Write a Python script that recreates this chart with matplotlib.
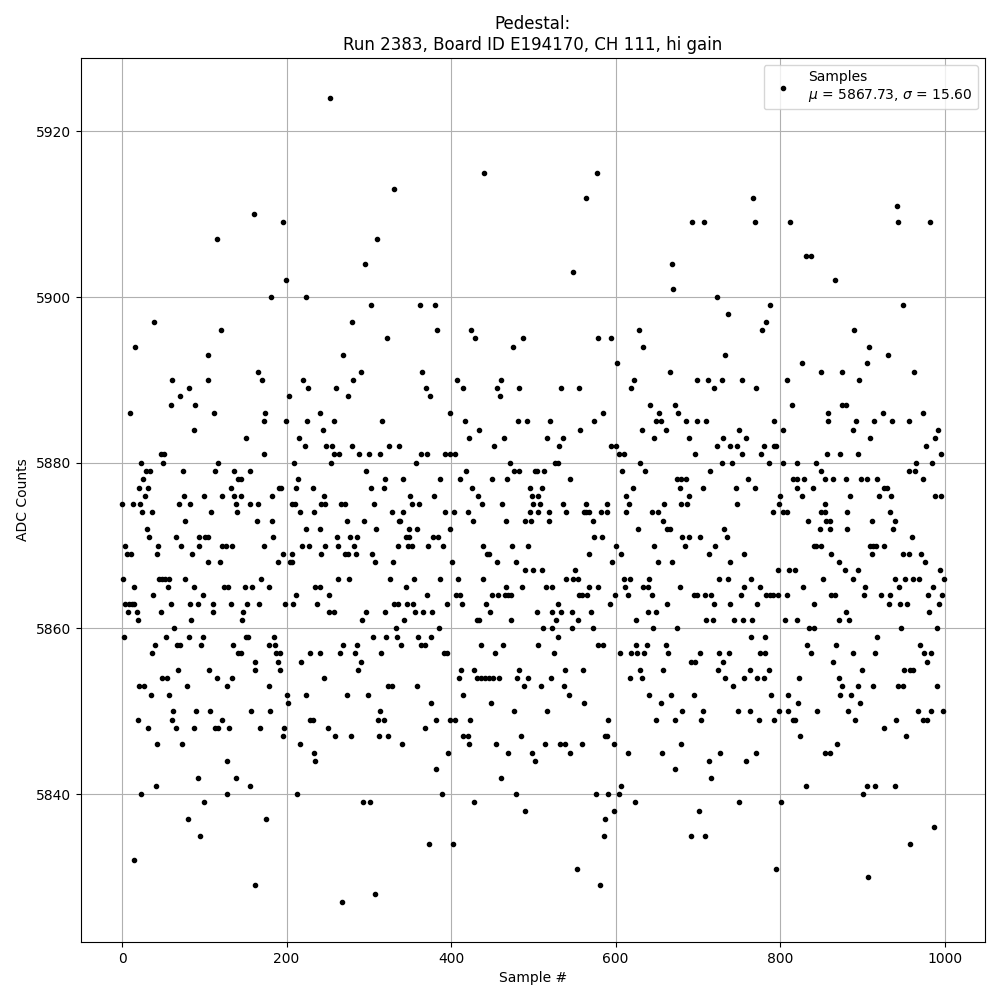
import matplotlib
matplotlib.use("Agg")
import matplotlib.pyplot as plt

# Pedestal samples: (sample #, ADC counts)
# points hidden behind others are not included
strip_a = [(39,5897),(16,5894),(61,5890),(70,5888),(10,5886),(60,5887),(47,5881),(51,5881),(23,5880),(50,5880),(74,5879),(29,5879),(34,5879),(20,5877),(32,5877),(26,5878),(0,5875),(13,5875),(22,5875),(69,5875),(28,5876),(75,5876),(24,5874),(36,5874),(76,5873),(30,5872),(33,5871),(65,5871),(4,5870),(44,5870),(72,5870),(6,5869),(11,5869),(43,5869),(1,5866),(45,5866),(48,5866),(52,5866),(57,5866),(77,5866),(15,5865),(56,5865),(38,5864),(3,5863),(8,5863),(12,5863),(14,5863),(60,5863),(7,5862),(18,5862),(47,5862),(19,5861),(63,5860),(2,5859),(53,5859),(40,5858),(67,5858),(71,5858),(36,5857),(68,5855),(48,5854),(54,5854),(21,5853),(27,5853),(35,5852),(57,5852),(62,5850),(61,5849),(19,5849),(31,5848),(66,5848),(42,5846),(73,5846),(41,5841),(23,5840),(14,5832)]
strip_b = [(160,5910),(115,5907),(120,5896),(105,5893),(104,5890),(81,5889),(89,5887),(112,5886),(88,5884),(151,5883),(117,5880),(113,5879),(136,5879),(156,5879),(132,5877),(141,5878),(144,5878),(83,5875),(99,5876),(122,5876),(136,5876),(144,5876),(138,5875),(155,5875),(108,5874),(140,5874),(94,5871),(101,5871),(104,5871),(93,5870),(122,5870),(126,5870),(134,5870),(85,5869),(104,5868),(119,5868),(87,5865),(124,5865),(129,5865),(149,5865),(158,5865),(98,5864),(82,5863),(92,5863),(110,5863),(132,5863),(152,5863),(111,5862),(147,5862),(84,5861),(146,5861),(81,5859),(98,5859),(151,5859),(153,5859),(96,5858),(135,5858),(141,5857),(145,5857),(162,5856),(161,5855),(106,5855),(115,5854),(133,5854),(127,5853),(79,5853),(90,5850),(107,5850),(157,5850),(87,5848),(113,5848),(117,5848),(130,5848),(121,5849),(127,5844),(92,5842),(139,5842),(155,5841),(128,5840),(100,5839),(80,5837),(95,5835),(161,5829)]
strip_c = [(195,5909),(199,5902),(181,5900),(224,5900),(165,5891),(170,5890),(220,5890),(226,5889),(203,5888),(174,5886),(172,5885),(199,5885),(225,5885),(240,5886),(244,5884),(215,5883),(222,5882),(173,5881),(209,5880),(214,5878),(191,5877),(193,5877),(212,5877),(232,5877),(182,5876),(246,5876),(165,5875),(206,5875),(210,5875),(242,5875),(247,5875),(216,5874),(233,5874),(164,5873),(182,5873),(223,5872),(241,5872),(183,5871),(172,5870),(219,5870),(227,5870),(247,5870),(195,5869),(206,5869),(242,5869),(189,5868),(204,5868),(207,5868),(169,5866),(178,5865),(212,5864),(167,5863),(198,5863),(208,5863),(235,5865),(240,5865),(237,5863),(185,5859),(178,5858),(186,5858),(187,5857),(192,5857),(189,5856),(218,5856),(229,5857),(240,5857),(192,5855),(246,5854),(178,5853),(201,5852),(202,5851),(223,5852),(180,5850),(229,5849),(232,5849),(168,5848),(197,5848),(196,5847),(216,5846),(233,5845),(235,5844),(213,5840),(175,5837)]
strip_d = [(253,5924),(331,5913),(310,5907),(295,5904),(303,5899),(280,5897),(322,5895),(269,5893),(291,5891),(281,5890),(260,5889),(275,5888),(257,5885),(316,5885),(248,5882),(255,5882),(280,5882),(325,5882),(258,5881),(264,5881),(288,5881),(300,5881),(314,5881),(254,5880),(297,5879),(320,5878),(303,5877),(318,5877),(266,5875),(271,5875),(306,5875),(328,5874),(274,5873),(294,5873),(309,5872),(261,5871),(277,5871),(286,5871),(263,5870),(282,5870),(271,5869),(275,5869),(284,5869),(304,5869),(308,5868),(329,5868),(263,5866),(276,5866),(326,5866),(252,5864),(252,5862),(258,5862),(297,5862),(320,5862),(292,5861),(331,5863),(305,5859),(321,5859),(269,5858),(286,5858),(265,5857),(283,5857),(315,5857),(291,5856),(287,5855),(323,5853),(328,5853),(274,5852),(299,5852),(314,5850),(311,5849),(318,5849),(250,5848),(259,5847),(278,5847),(312,5847),(323,5847),(293,5839),(301,5839),(308,5828),(267,5827)]
strip_e = [(362,5899),(380,5899),(383,5896),(365,5891),(407,5890),(369,5889),(374,5888),(415,5889),(398,5886),(417,5885),(337,5882),(363,5881),(371,5881),(392,5881),(398,5881),(405,5881),(357,5880),(341,5878),(386,5878),(411,5878),(350,5876),(379,5876),(352,5875),(361,5875),(341,5874),(392,5874),(403,5874),(337,5873),(338,5873),(349,5872),(358,5872),(398,5872),(345,5871),(349,5871),(378,5871),(384,5871),(335,5870),(348,5870),(352,5870),(372,5870),(390,5870),(401,5868),(355,5866),(386,5866),(408,5866),(345,5865),(371,5864),(406,5864),(411,5864),(335,5863),(346,5863),(354,5863),(395,5863),(413,5863),(343,5861),(356,5862),(366,5862),(377,5862),(333,5860),(385,5860),(334,5859),(339,5858),(360,5859),(375,5859),(363,5858),(368,5858),(391,5857),(395,5857),(412,5855),(409,5854),(358,5853),(415,5852),(375,5851),(381,5849),(398,5849),(405,5849),(368,5848),(415,5847),(340,5846),(396,5845),(381,5843),(389,5840),(373,5834),(402,5834)]
strip_f = [(440,5915),(424,5896),(429,5895),(475,5894),(487,5895),(460,5890),(456,5889),(459,5888),(483,5889),(434,5884),(481,5885),(492,5885),(422,5883),(452,5882),(464,5883),(471,5880),(418,5879),(477,5879),(482,5879),(502,5879),(450,5878),(468,5878),(425,5877),(496,5877),(433,5876),(498,5876),(437,5875),(462,5875),(500,5875),(420,5874),(496,5874),(426,5873),(467,5873),(490,5873),(497,5873),(439,5870),(474,5870),(493,5870),(443,5869),(446,5869),(456,5868),(479,5868),(490,5867),(500,5867),(439,5866),(467,5865),(486,5865),(442,5863),(450,5864),(457,5864),(465,5864),(469,5864),(473,5864),(447,5862),(431,5861),(434,5861),(473,5861),(436,5858),(463,5858),(453,5857),(428,5855),(431,5854),(436,5854),(441,5854),(446,5854),(451,5854),(458,5854),(480,5854),(494,5854),(483,5855),(488,5853),(448,5851),(476,5850),(423,5849),(420,5847),(422,5846),(454,5846),(485,5847),(469,5845),(498,5845),(502,5844),(460,5842),(479,5840),(428,5839),(490,5838)]
strip_g = [(577,5915),(564,5912),(548,5903),(579,5895),(534,5889),(556,5889),(520,5885),(574,5885),(584,5886),(517,5883),(536,5883),(531,5882),(557,5884),(526,5880),(530,5880),(504,5879),(513,5879),(545,5878),(510,5877),(505,5876),(536,5875),(564,5875),(508,5875),(506,5874),(519,5874),(540,5874),(561,5874),(564,5874),(568,5874),(582,5874),(519,5873),(573,5873),(574,5871),(583,5871),(567,5869),(511,5867),(551,5867),(540,5866),(548,5866),(554,5866),(515,5865),(523,5865),(568,5865),(578,5865),(555,5864),(559,5864),(565,5864),(530,5863),(504,5862),(522,5862),(533,5862),(547,5862),(570,5862),(527,5861),(554,5861),(512,5860),(523,5860),(547,5860),(572,5860),(530,5859),(506,5858),(579,5858),(585,5858),(525,5857),(539,5855),(560,5855),(521,5854),(509,5853),(537,5853),(543,5852),(561,5851),(516,5850),(587,5847),(514,5846),(532,5846),(538,5846),(559,5846),(544,5845),(576,5840),(587,5837),(553,5831),(581,5829)]
strip_h = [(669,5904),(670,5901),(628,5896),(594,5895),(633,5894),(602,5892),(666,5891),(622,5890),(619,5889),(642,5887),(672,5887),(653,5886),(649,5885),(655,5885),(632,5884),(661,5884),(647,5883),(594,5882),(601,5882),(604,5881),(610,5881),(629,5880),(608,5879),(636,5879),(621,5877),(613,5876),(616,5875),(589,5875),(659,5875),(590,5874),(612,5874),(644,5874),(652,5874),(657,5873),(662,5872),(666,5872),(627,5872),(601,5870),(647,5870),(606,5869),(596,5868),(651,5868),(668,5868),(610,5866),(617,5866),(641,5866),(611,5865),(633,5865),(639,5865),(599,5864),(615,5864),(644,5864),(593,5863),(662,5863),(639,5862),(649,5862),(625,5861),(645,5860),(625,5858),(638,5858),(661,5858),(605,5857),(619,5857),(626,5857),(635,5857),(664,5857),(630,5855),(658,5855),(618,5854),(632,5854),(640,5852),(667,5852),(655,5851),(591,5849),(649,5849),(672,5849),(589,5847),(598,5846),(615,5845),(656,5845),(672,5843),(591,5840),(604,5840),(607,5841),(598,5838),(623,5839),(586,5835)]
strip_i = [(693,5909),(707,5909),(723,5900),(737,5898),(733,5893),(699,5890),(712,5890),(729,5890),(754,5890),(719,5889),(676,5886),(686,5885),(699,5885),(710,5885),(750,5884),(689,5883),(731,5883),(697,5881),(723,5882),(739,5882),(747,5882),(753,5881),(729,5880),(742,5880),(715,5879),(674,5878),(680,5878),(686,5878),(678,5877),(689,5876),(706,5877),(746,5877),(679,5875),(687,5875),(748,5875),(681,5871),(689,5871),(684,5870),(702,5871),(714,5869),(721,5870),(732,5872),(735,5871),(739,5868),(756,5869),(725,5866),(736,5866),(678,5865),(756,5865),(695,5864),(699,5864),(708,5864),(716,5864),(752,5864),(720,5863),(739,5863),(710,5861),(718,5861),(744,5861),(755,5861),(675,5860),(691,5856),(697,5856),(703,5857),(726,5857),(738,5857),(724,5855),(730,5856),(733,5854),(756,5854),(743,5853),(695,5852),(681,5850),(706,5850),(749,5850),(704,5849),(680,5846),(727,5845),(713,5844),(716,5842),(750,5839),(701,5838),(691,5835),(709,5835)]
strip_j = [(767,5912),(769,5909),(812,5909),(831,5905),(837,5905),(787,5899),(783,5897),(778,5896),(827,5892),(808,5890),(770,5889),(814,5887),(793,5885),(803,5884),(792,5882),(795,5882),(780,5882),(777,5881),(759,5883),(786,5880),(804,5880),(820,5880),(761,5878),(769,5877),(815,5878),(820,5878),(829,5878),(840,5877),(821,5877),(826,5876),(800,5876),(799,5875),(791,5874),(804,5874),(808,5874),(834,5873),(841,5870),(764,5866),(797,5867),(811,5867),(818,5867),(828,5865),(775,5865),(772,5863),(783,5864),(788,5864),(791,5864),(797,5864),(808,5864),(841,5863),(766,5861),(806,5861),(821,5861),(835,5860),(841,5860),(764,5859),(781,5859),(833,5858),(838,5857),(775,5857),(782,5857),(763,5855),(772,5854),(780,5854),(786,5855),(823,5854),(789,5852),(810,5852),(822,5851),(763,5850),(774,5849),(792,5849),(798,5850),(809,5850),(815,5849),(818,5849),(824,5847),(771,5845),(759,5844),(831,5841),(801,5839),(795,5831)]
strip_k = [(867,5902),(890,5896),(908,5894),(905,5892),(849,5891),(875,5891),(896,5890),(875,5887),(880,5887),(858,5886),(858,5885),(892,5885),(914,5885),(888,5884),(925,5886),(909,5883),(857,5881),(873,5881),(895,5881),(843,5880),(850,5879),(854,5878),(864,5878),(880,5878),(898,5878),(905,5878),(918,5878),(926,5877),(885,5876),(920,5876),(854,5875),(850,5874),(855,5874),(860,5873),(881,5874),(856,5873),(911,5873),(848,5872),(860,5872),(881,5872),(843,5870),(849,5870),(909,5870),(913,5870),(917,5870),(926,5870),(912,5869),(862,5869),(871,5868),(879,5867),(894,5867),(852,5866),(888,5866),(903,5865),(862,5864),(867,5864),(902,5864),(923,5864),(880,5862),(871,5861),(884,5861),(868,5858),(864,5856),(918,5859),(915,5857),(889,5857),(900,5855),(913,5853),(872,5854),(875,5853),(894,5853),(873,5852),(886,5852),(897,5851),(883,5850),(891,5849),(845,5850),(926,5848),(869,5846),(855,5845),(861,5845),(901,5840),(906,5841),(915,5841),(907,5830)]
strip_l = [(942,5911),(943,5909),(982,5909),(949,5899),(931,5893),(963,5891),(936,5885),(956,5885),(973,5886),(992,5884),(988,5883),(977,5882),(996,5881),(957,5879),(964,5879),(965,5880),(985,5880),(973,5878),(930,5877),(935,5876),(988,5876),(996,5876),(934,5874),(939,5873),(937,5872),(960,5871),(949,5869),(956,5869),(971,5869),(976,5868),(994,5867),(939,5866),(952,5866),(962,5866),(969,5866),(999,5866),(945,5865),(986,5865),(933,5864),(980,5864),(997,5864),(932,5863),(946,5863),(954,5863),(993,5863),(981,5862),(947,5860),(991,5860),(970,5858),(975,5857),(983,5857),(979,5856),(951,5855),(958,5855),(962,5855),(943,5853),(949,5853),(990,5853),(968,5850),(974,5849),(979,5849),(983,5850),(998,5850),(941,5849),(953,5847),(940,5841),(987,5836),(958,5834)]

strips = [strip_a, strip_b, strip_c, strip_d, strip_e, strip_f,
          strip_g, strip_h, strip_i, strip_j, strip_k, strip_l]
sample = [s for strip in strips for s, _ in strip]
adc = [v for strip in strips for _, v in strip]

mean_adc = 5867.73
std_adc = 15.60

fig, ax = plt.subplots(figsize=(10, 10), dpi=100)

ax.plot(sample, adc, 'k.', linestyle='none',
        label=f"Samples\n$\\mu$ = {mean_adc:.2f}, $\\sigma$ = {std_adc:.2f}")

ax.set_xlim(-49.95, 1048.95)
ax.set_ylim(5822.15, 5928.85)
ax.set_xlabel('Sample #')
ax.set_ylabel('ADC Counts')
ax.set_title('Pedestal:\nRun 2383, Board ID E194170, CH 111, hi gain')
ax.grid(True)
ax.legend(loc='upper right')

fig.subplots_adjust(left=0.081, right=0.985, top=0.942, bottom=0.058)
fig.savefig('out.png')
